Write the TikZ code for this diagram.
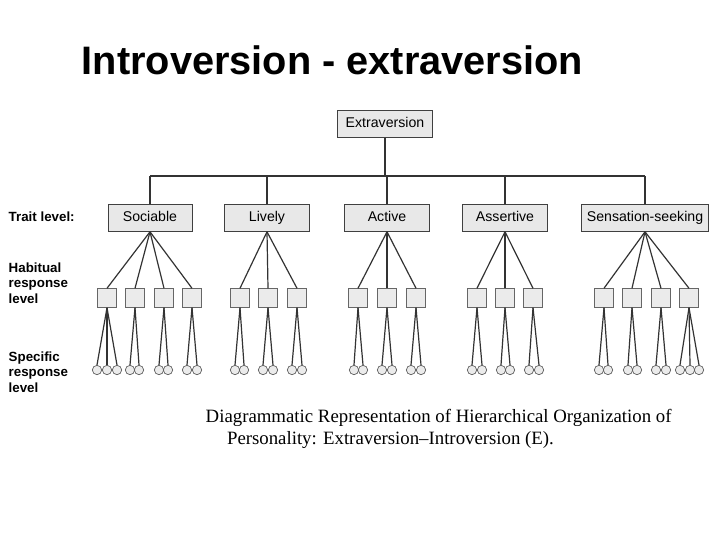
\documentclass[tikz,border=0pt]{standalone}
\usepackage{fontspec}
\setmainfont{Liberation Sans}
\newfontfamily\capfont{Liberation Serif}
\begin{document}
\begin{tikzpicture}[x=0.75pt,y=-0.75pt,
  box/.style={draw=black!75,fill=black!9,line width=0.7pt,inner sep=0pt,minimum height=20pt,text height=7.5pt,text depth=2pt,font=\fontsize{10.6}{12}\selectfont},
  hab/.style={draw=black!60,fill=black!8,line width=0.6pt,minimum size=14pt,inner sep=0pt},
  circ/.style={draw=black!65,fill=black!8,circle,line width=0.5pt,minimum size=7pt,inner sep=0pt},
  ln/.style={draw=black!80,line width=0.9pt},
  lab/.style={font=\bfseries\fontsize{10}{11.5}\selectfont,align=left,anchor=west}]
\useasboundingbox (0,0) rectangle (720,540);
\node[anchor=west,font=\bfseries\fontsize{29.8}{32}\selectfont] (title) at (77,60) {Introversion - extraversion};
\node[box,minimum width=71pt] (E) at (385,124) {Extraversion};
\node[box,minimum width=63pt] (t1) at (150,218) {Sociable};
\node[box,minimum width=64pt] (t2) at (267,218) {Lively};
\node[box,minimum width=64pt] (t3) at (387,218) {Active};
\node[box,minimum width=64pt] (t4) at (505,218) {Assertive};
\node[box,minimum width=95pt] (t5) at (645,218) {Sensation-seeking};
\coordinate (hl) at (150,176); \coordinate (hr) at (645,176);
\draw[ln] (E.south) -- (385,176);
\draw[ln] (hl) -- (hr);
\foreach \t/\x in {t1/150,t2/267,t3/387,t4/505,t5/645} \draw[ln] (\x,176) -- (\t.north);
\foreach \t/\x/\cs [count=\i] in {
 t1/107/{97,107,117}, t1/135/{130,139}, t1/164/{159,168}, t1/192/{187,197},
 t2/240/{235,244}, t2/268/{263,273}, t2/297/{292,302},
 t3/358/{354,363}, t3/387/{382,392}, t3/416/{411,421},
 t4/477/{472,482}, t4/505/{501,510}, t4/533/{529,539},
 t5/604/{599,608}, t5/632/{628,637}, t5/661/{656,666}, t5/689/{680,690,699}}{
  \node[hab] (h\i) at (\x,298) {};
  \draw[ln] (\t.south) -- (h\i.north);
  \foreach \c [count=\j] in \cs {
    \node[circ] (c\i-\j) at (\c,370) {};
    \draw[ln] (h\i.south) -- (c\i-\j.north);
  }
}
\node[lab] (L1) at (4,217) {Trait level:};
\node[lab] (L2) at (4,283) {Habitual\\response\\level};
\node[lab] (L3) at (4,372) {Specific\\response\\level};
\node[anchor=west,font=\capfont\fontsize{14.1}{16}\selectfont,align=left] (cap) at (201,429) {Diagrammatic Representation of Hierarchical Organization of\\\hspace*{16pt}Personality: Extraversion–Introversion (E).};
\end{tikzpicture}
\end{document}
